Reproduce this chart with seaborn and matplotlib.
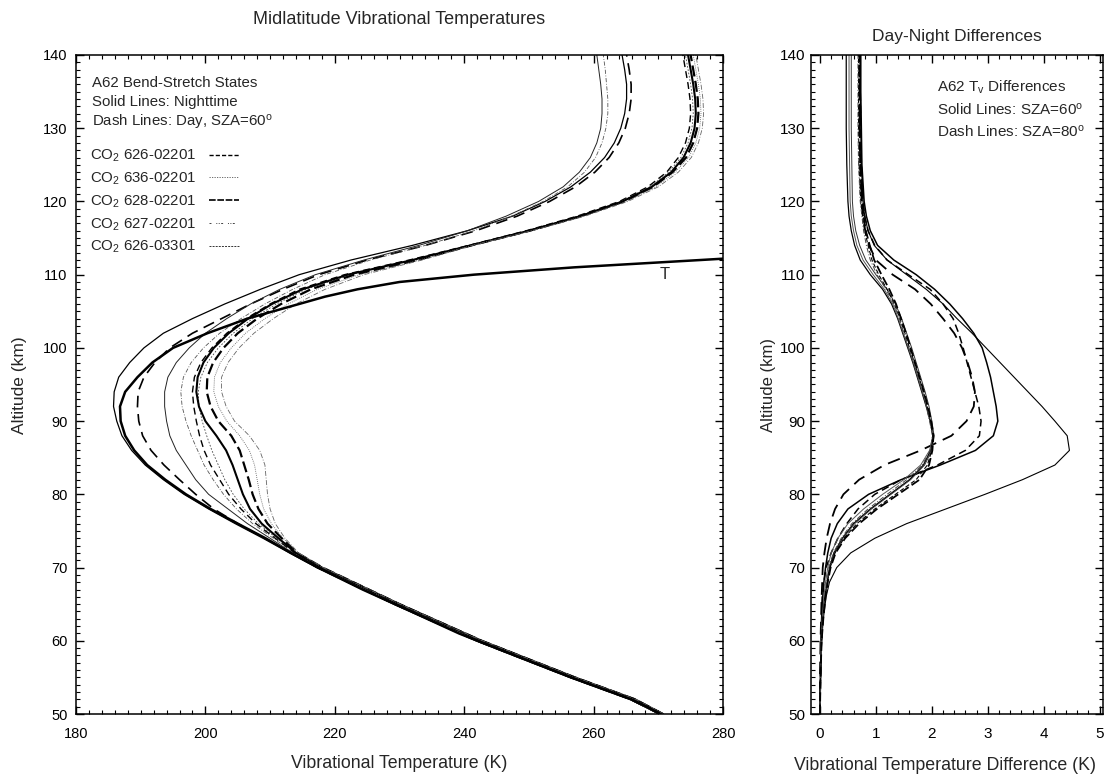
import matplotlib
matplotlib.use("Agg")
import matplotlib.pyplot as plt
from matplotlib.lines import Line2D
from matplotlib.ticker import MultipleLocator
import seaborn as sns

# ---------------- data: left panel (vibrational temperatures, K) ----------------
ALT_L = [50, 52, 55, 60, 65, 70, 72, 74, 76, 78, 80, 82, 84, 86, 88, 90, 92, 94, 96, 98,
         100, 102, 104, 106, 108, 110, 112, 114, 116, 118, 120, 122, 124, 126, 128, 130,
         132, 134, 136, 138, 140]

T_ALT = [50, 51, 52, 55, 58, 61, 64, 67, 70, 72, 74, 76, 78, 80, 82, 84, 86, 88, 90, 92, 94,
         96, 98, 100, 102, 104, 105, 106, 107, 108, 109, 110, 111, 112, 112.5]
T_KIN = [270.3, 268.2, 265.8, 256.5, 247.8, 239.2, 231.8, 224.3, 217.4, 213.2, 209.3, 205.0,
         200.8, 197.0, 193.8, 191.0, 189.0, 187.6, 186.9, 186.8, 187.6, 189.5, 191.8, 195.0,
         200.3, 206.5, 210.5, 214.5, 218.5, 223.5, 230.0, 241.5, 257.0, 276.5, 286.0]

N1 = [270.1, 265.6, 256.3, 241.8, 229.1, 217.2, 213.0, 208.9, 204.6, 200.5, 196.7, 193.5, 190.7,
      188.6, 187.1, 186.3, 185.8, 185.9, 186.6, 188.3, 190.5, 193.5, 198.0, 203.0, 208.5, 214.5,
      222.5, 232.0, 240.5, 247.5, 252.5, 256.5, 259.5, 261.7, 263.2, 264.2, 264.8, 265.1, 265.1,
      264.8, 264.4]
D1 = [270.2, 265.7, 256.4, 241.9, 229.2, 217.3, 213.3, 209.2, 205.0, 201.3, 198.5, 196.0, 193.6,
      191.6, 190.3, 189.7, 189.5, 189.6, 190.5, 192.2, 194.5, 198.0, 202.5, 207.0, 212.0, 217.5,
      225.0, 234.0, 241.8, 248.2, 253.2, 257.2, 260.2, 262.4, 263.9, 264.9, 265.5, 265.8, 265.8,
      265.5, 265.1]
N2 = [270.1, 265.6, 256.3, 241.8, 229.1, 217.3, 213.5, 210.0, 206.5, 203.5, 200.5, 198.5, 197.0,
      195.5, 194.5, 194.0, 193.7, 193.7, 194.2, 195.5, 197.5, 200.0, 203.3, 207.0, 211.5, 217.0,
      224.5, 233.0, 240.5, 246.5, 251.5, 255.3, 257.8, 259.5, 260.5, 261.1, 261.3, 261.3, 261.1,
      260.8, 260.5]
D2 = [270.2, 265.7, 256.4, 241.9, 229.2, 217.4, 213.7, 210.5, 207.3, 204.8, 202.8, 201.2, 199.8,
      198.8, 197.8, 197.0, 196.4, 196.2, 196.6, 197.8, 199.7, 202.2, 205.5, 209.2, 213.5, 218.5,
      225.5, 234.0, 241.5, 247.3, 252.2, 256.0, 258.6, 260.3, 261.3, 261.9, 262.2, 262.2, 262.0,
      261.8, 261.5]
X5 = [270.6, 266.3, 257.0, 242.6, 229.9, 217.9, 213.8, 210.8, 207.8, 205.5, 203.6, 202.2, 200.8,
      199.8, 199.1, 198.6, 198.2, 198.0, 198.3, 199.3, 201.0, 203.3, 206.3, 210.0, 214.5, 221.5,
      231.5, 240.7, 249.6, 257.5, 264.0, 268.4, 271.3, 273.1, 274.2, 274.8, 275.0, 274.9, 274.6,
      274.2, 273.8]
Y6 = [270.6, 266.3, 257.0, 242.6, 229.9, 218.0, 213.9, 211.0, 208.2, 206.0, 204.3, 203.0, 202.0,
      201.0, 200.2, 199.5, 199.0, 198.9, 199.3, 200.3, 202.0, 204.3, 207.3, 211.0, 215.5, 222.5,
      232.0, 240.8, 249.8, 257.7, 264.2, 268.7, 271.6, 273.5, 274.6, 275.2, 275.4, 275.3, 275.0,
      274.6, 274.2]
N3 = [270.7, 266.4, 257.1, 242.7, 230.0, 218.0, 214.0, 211.3, 208.7, 206.9, 205.8, 205.0, 204.2,
      203.2, 201.7, 200.0, 199.0, 198.6, 198.8, 199.7, 201.3, 203.6, 206.6, 210.3, 215.0, 222.0,
      232.0, 241.0, 250.0, 258.0, 264.5, 269.0, 272.0, 273.9, 275.0, 275.6, 275.8, 275.7, 275.4,
      275.0, 274.6]
D3 = [270.7, 266.4, 257.1, 242.7, 230.0, 218.1, 214.2, 211.8, 209.6, 208.2, 207.3, 206.7, 206.0,
      205.3, 204.0, 202.0, 200.8, 200.2, 200.3, 201.2, 202.8, 205.0, 208.0, 211.7, 216.3, 223.0,
      232.8, 241.1, 250.1, 258.1, 264.7, 269.2, 272.2, 274.3, 275.4, 276.0, 276.2, 276.1, 275.8,
      275.4, 275.0]
W9 = [270.7, 266.4, 257.1, 242.7, 230.0, 218.1, 214.3, 212.0, 210.2, 209.0, 208.4, 208.0, 207.6,
      206.8, 205.3, 203.3, 202.0, 201.3, 201.4, 202.3, 204.0, 206.2, 209.2, 212.8, 217.3, 223.8,
      233.0, 241.2, 250.3, 258.4, 265.0, 269.6, 272.6, 274.7, 275.8, 276.4, 276.6, 276.5, 276.2,
      275.8, 275.4]
Z10 = [270.8, 266.5, 257.2, 242.8, 230.1, 218.2, 214.4, 212.3, 210.8, 210.0, 209.6, 209.4, 209.2,
       208.4, 206.8, 204.5, 203.2, 202.5, 202.5, 203.5, 205.2, 207.5, 210.5, 214.0, 218.5, 224.5,
       233.5, 241.3, 250.5, 258.7, 265.3, 270.0, 273.1, 275.1, 276.2, 276.8, 277.0, 276.9, 276.6,
       276.2, 275.8]

LEGEND_LABELS = ["CO$_2$ 626-02201", "CO$_2$ 636-02201", "CO$_2$ 628-02201",
                 "CO$_2$ 627-02201", "CO$_2$ 626-03301"]

# ---------------- data: right panel (day - night differences, K) ----------------
ALT_R = [50, 55, 60, 63, 66, 68, 70, 72, 74, 76, 78, 80, 82, 84, 86, 88, 90, 92, 94, 96, 98,
         100, 102, 104, 106, 108, 110, 112, 114, 116, 118, 120, 125, 130, 135, 140]
R1 = [0.0, 0.01, 0.03, 0.06, 0.11, 0.17, 0.3, 0.55, 0.98, 1.55, 2.25, 2.95, 3.62, 4.2, 4.46, 4.42,
      4.2, 3.97, 3.72, 3.47, 3.22, 2.97, 2.72, 2.45, 2.2, 1.9, 1.55, 1.2, 0.97, 0.86, 0.8, 0.77,
      0.74, 0.73, 0.72, 0.72]
R2 = [0.0, 0.01, 0.02, 0.03, 0.05, 0.07, 0.1, 0.14, 0.2, 0.31, 0.5, 0.87, 1.45, 2.15, 2.78, 3.1,
      3.18, 3.15, 3.1, 3.05, 2.98, 2.9, 2.75, 2.55, 2.32, 2.05, 1.72, 1.32, 1.03, 0.9, 0.83, 0.79,
      0.75, 0.74, 0.73, 0.73]
R3 = [0.0, 0.0, 0.01, 0.02, 0.03, 0.04, 0.05, 0.08, 0.12, 0.18, 0.27, 0.42, 0.7, 1.15, 1.8, 2.35,
      2.62, 2.75, 2.77, 2.72, 2.64, 2.54, 2.4, 2.2, 1.98, 1.7, 1.3, 1.0, 0.88, 0.81, 0.77, 0.75,
      0.72, 0.71, 0.71, 0.7]
R4 = [0.0, 0.01, 0.02, 0.03, 0.04, 0.07, 0.11, 0.2, 0.32, 0.48, 0.68, 0.98, 1.45, 2.1, 2.6, 2.85,
      2.88, 2.84, 2.77, 2.7, 2.63, 2.56, 2.48, 2.38, 2.2, 1.97, 1.58, 1.2, 0.98, 0.86, 0.8, 0.77,
      0.74, 0.73, 0.72, 0.72]
C1 = [0.0, 0.01, 0.03, 0.05, 0.09, 0.13, 0.17, 0.25, 0.4, 0.6, 0.9, 1.25, 1.6, 1.85, 1.98, 2.02,
      1.97, 1.9, 1.82, 1.74, 1.66, 1.57, 1.48, 1.39, 1.28, 1.12, 0.9, 0.72, 0.62, 0.56, 0.52, 0.5,
      0.48, 0.47, 0.47, 0.47]
C2 = [0.0, 0.01, 0.03, 0.05, 0.09, 0.13, 0.18, 0.26, 0.41, 0.62, 0.92, 1.27, 1.62, 1.87, 2.0, 2.04,
      2.0, 1.95, 1.88, 1.8, 1.72, 1.64, 1.55, 1.46, 1.35, 1.2, 1.0, 0.82, 0.71, 0.64, 0.6, 0.58,
      0.57, 0.56, 0.56, 0.56]
C3 = [0.0, 0.01, 0.02, 0.04, 0.07, 0.1, 0.14, 0.2, 0.32, 0.5, 0.78, 1.12, 1.5, 1.8, 1.96, 2.02,
      1.98, 1.91, 1.83, 1.75, 1.67, 1.58, 1.49, 1.4, 1.3, 1.15, 0.95, 0.77, 0.66, 0.6, 0.56, 0.54,
      0.53, 0.52, 0.52, 0.52]
C4 = [0.0, 0.01, 0.03, 0.05, 0.09, 0.13, 0.18, 0.27, 0.43, 0.66, 0.98, 1.35, 1.72, 1.92, 2.0, 2.02,
      1.98, 1.92, 1.85, 1.77, 1.69, 1.6, 1.52, 1.43, 1.33, 1.2, 1.05, 0.93, 0.86, 0.8, 0.76, 0.73,
      0.7, 0.69, 0.69, 0.69]
C5 = [0.0, 0.01, 0.03, 0.05, 0.08, 0.12, 0.16, 0.24, 0.38, 0.57, 0.86, 1.2, 1.55, 1.83, 1.97, 2.01,
      1.96, 1.9, 1.83, 1.75, 1.67, 1.59, 1.5, 1.42, 1.32, 1.18, 1.02, 0.9, 0.83, 0.78, 0.75, 0.72,
      0.69, 0.68, 0.68, 0.68]
C6 = [0.0, 0.01, 0.03, 0.06, 0.1, 0.14, 0.19, 0.28, 0.45, 0.7, 1.02, 1.4, 1.78, 1.95, 2.01, 2.03,
      1.99, 1.93, 1.86, 1.78, 1.7, 1.62, 1.54, 1.45, 1.36, 1.24, 1.1, 0.97, 0.89, 0.82, 0.78, 0.75,
      0.72, 0.71, 0.71, 0.71]

# ---------------- styling ----------------
sns.set_theme(style="ticks")
plt.rcParams['font.family'] = ['Liberation Sans', 'DejaVu Sans']
plt.rcParams['mathtext.fontset'] = 'custom'
plt.rcParams['mathtext.rm'] = 'Liberation Sans'
plt.rcParams['mathtext.it'] = 'Liberation Sans:italic'
plt.rcParams['mathtext.bf'] = 'Liberation Sans:bold'
plt.rcParams['axes.edgecolor'] = 'black'
plt.rcParams['axes.linewidth'] = 1.0

fig = plt.figure(figsize=(11.12, 7.8), dpi=100)
W, H = 1112.0, 780.0
top_px, bot_px = 55.0, 714.0
ax1 = fig.add_axes([76 / W, 1 - bot_px / H, (723 - 76) / W, (bot_px - top_px) / H])
ax2 = fig.add_axes([811 / W, 1 - bot_px / H, (1103 - 811) / W, (bot_px - top_px) / H])


def draw(ax, x, y, lw, ls, color="black"):
    sns.lineplot(x=x, y=y, ax=ax, sort=False, estimator=None, color=color,
                 linewidth=lw, linestyle=ls)


# left panel curves
left_styles = [
    (N1, 0.9, "-", "black"),
    (D1, 1.2, (0, (7, 4)), "black"),
    (N2, 0.7, "-", "#222222"),
    (D2, 0.6, (0, (5, 2, 1, 2)), "#555555"),
    (X5, 1.0, (0, (5, 3)), "black"),
    (Y6, 0.6, (0, (2, 2)), "#444444"),
    (N3, 1.5, "-", "black"),
    (D3, 1.6, (0, (5, 2)), "black"),
    (W9, 0.6, (0, (1, 1.5)), "#555555"),
    (Z10, 0.6, (0, (6, 2, 1, 2)), "#666666"),
]
for vals, lw, ls, col in left_styles:
    draw(ax1, vals, ALT_L, lw, ls, col)
draw(ax1, T_KIN, T_ALT, 1.8, "-", "black")

# right panel curves
right_styles = [
    (R1, 0.8, "-", "black"),
    (R2, 1.1, "-", "black"),
    (R3, 1.3, (0, (7, 4)), "black"),
    (R4, 1.1, (0, (5, 3)), "black"),
    (C1, 0.9, "-", "black"),
    (C2, 0.7, "-", "#333333"),
    (C3, 0.7, "-", "#555555"),
    (C4, 0.8, (0, (4, 2)), "black"),
    (C5, 0.7, (0, (5, 2, 1, 2)), "#444444"),
    (C6, 1.3, (0, (5, 2)), "black"),
]
for vals, lw, ls, col in right_styles:
    draw(ax2, vals, ALT_R, lw, ls, col)

# axes setup
for ax in (ax1, ax2):
    ax.set_ylim(50, 140)
    ax.yaxis.set_major_locator(MultipleLocator(10))
    ax.yaxis.set_minor_locator(MultipleLocator(1))
    ax.tick_params(which="both", direction="in", top=True, right=True, colors="black")
    ax.tick_params(which="major", length=6, width=1.0)
    ax.tick_params(which="minor", length=3, width=0.8)
    ax.set_xlabel("")
    ax.set_ylabel("")
    for s in ax.spines.values():
        s.set_visible(True)
        s.set_color("black")
        s.set_linewidth(1.1)

ax1.set_xlim(180, 280)
ax1.xaxis.set_major_locator(MultipleLocator(20))
ax1.xaxis.set_minor_locator(MultipleLocator(2))
ax1.tick_params(axis="x", which="major", labelsize=10.5, pad=9)
ax1.tick_params(axis="y", which="major", labelsize=10.5, pad=6)

ax2.set_xlim(-0.16, 5.06)
ax2.xaxis.set_major_locator(MultipleLocator(1))
ax2.xaxis.set_minor_locator(MultipleLocator(0.2))
ax2.tick_params(axis="x", which="major", labelsize=11, pad=9)
ax2.tick_params(axis="y", which="major", labelsize=11, pad=4)

# T label
ax1.text(271, 110, "T", fontsize=12, ha="center", va="center")


def yfrac(px):
    return (bot_px - px) / (bot_px - top_px)


# left header text
hx = 0.025
ax1.text(hx, yfrac(83), "A62 Bend-Stretch States", transform=ax1.transAxes,
         fontsize=10.8, va="center", ha="left")
ax1.text(hx, yfrac(102), "Solid Lines: Nighttime", transform=ax1.transAxes,
         fontsize=10.8, va="center", ha="left")
ax1.text(hx, yfrac(122), r"Dash Lines: Day, SZA=60$^{\rm o}$", transform=ax1.transAxes,
         fontsize=10.8, va="center", ha="left")

handles = [
    Line2D([0], [0], color="black", lw=1.0, linestyle=(0, (3, 1.5))),
    Line2D([0], [0], color="#555555", lw=0.6, linestyle=(0, (1.5, 1.5))),
    Line2D([0], [0], color="black", lw=1.2, linestyle=(0, (4, 1))),
    Line2D([0], [0], color="#444444", lw=0.7, linestyle=(0, (2, 5, 1, 1.5, 1, 1.5))),
    Line2D([0], [0], color="#333333", lw=0.7, linestyle=(0, (2, 1.2))),
]
ax1.legend(handles, LEGEND_LABELS, loc="upper left", bbox_to_anchor=(hx - 0.004, yfrac(148)),
           frameon=False, markerfirst=False, fontsize=10.8, handlelength=2.0,
           handletextpad=0.9, labelspacing=0.42, borderpad=0, borderaxespad=0)

# right header text
rx = (937 - 811) / (1103 - 811)
ax2.text(rx, yfrac(87), r"A62 T$_{\rm v}$ Differences", transform=ax2.transAxes,
         fontsize=11, va="center", ha="left")
ax2.text(rx, yfrac(110), r"Solid Lines: SZA=60$^{\rm o}$", transform=ax2.transAxes,
         fontsize=11, va="center", ha="left")
ax2.text(rx, yfrac(132), r"Dash Lines: SZA=80$^{\rm o}$", transform=ax2.transAxes,
         fontsize=11, va="center", ha="left")

# titles and axis labels
fig.text(399 / W, 1 - 19 / H, "Midlatitude Vibrational Temperatures", ha="center",
         va="center", fontsize=13)
fig.text(957 / W, 1 - 37 / H, "Day-Night Differences", ha="center", va="center",
         fontsize=12.5)
fig.text(399 / W, 1 - 764 / H, "Vibrational Temperature (K)", ha="center", va="center",
         fontsize=12.8)
fig.text(945 / W, 1 - 765 / H, "Vibrational Temperature Difference (K)", ha="center",
         va="center", fontsize=12.8)
fig.text(20 / W, 1 - 385 / H, "Altitude (km)", ha="center", va="center", rotation=90,
         fontsize=12.5)
fig.text(768 / W, 1 - 385 / H, "Altitude (km)", ha="center", va="center", rotation=90,
         fontsize=12)

fig.savefig("out.png", dpi=100)
